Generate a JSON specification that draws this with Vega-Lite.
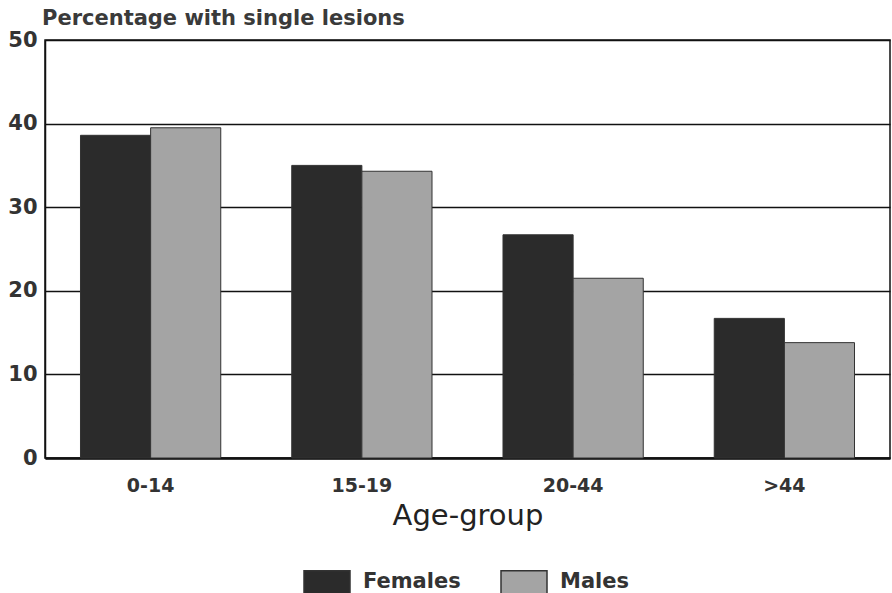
{
  "$schema": "https://vega.github.io/schema/vega-lite/v6.json",
  "autosize": "none",
  "width": 845,
  "height": 418,
  "padding": {"left": 45, "top": 40, "right": 2, "bottom": 135},
  "background": "white",
  "title": {
    "text": "Percentage with single lesions",
    "anchor": "start",
    "frame": "group",
    "dx": -3,
    "offset": 0,
    "font": "DejaVu Sans",
    "fontSize": 21,
    "fontWeight": "bold",
    "color": "#3a3a3a"
  },
  "config": {
    "view": {"stroke": "#111", "strokeWidth": 1.5},
    "font": "DejaVu Sans"
  },
  "data": {
    "values": [
      {"group": "0-14", "sex": "Females", "value": 38.6},
      {"group": "0-14", "sex": "Males", "value": 39.5},
      {"group": "15-19", "sex": "Females", "value": 35.0},
      {"group": "15-19", "sex": "Males", "value": 34.3},
      {"group": "20-44", "sex": "Females", "value": 26.7},
      {"group": "20-44", "sex": "Males", "value": 21.5},
      {"group": ">44", "sex": "Females", "value": 16.7},
      {"group": ">44", "sex": "Males", "value": 13.8}
    ]
  },
  "mark": {"type": "bar", "stroke": "#333", "strokeWidth": 1},
  "encoding": {
    "x": {
      "field": "group",
      "type": "nominal",
      "sort": ["0-14", "15-19", "20-44", ">44"],
      "scale": {"paddingInner": 0.336, "paddingOuter": 0.168},
      "axis": {
        "title": "Age-group",
        "titleFont": "DejaVu Sans",
        "titleFontSize": 29,
        "titleFontWeight": "normal",
        "titleColor": "#222",
        "titlePadding": 6,
        "labelAngle": 0,
        "labelFont": "DejaVu Sans",
        "labelFontSize": 19,
        "labelFontWeight": "bold",
        "labelColor": "#333",
        "labelPadding": 18,
        "ticks": false,
        "domainColor": "#111",
        "domainWidth": 2.5
      }
    },
    "xOffset": {"field": "sex", "type": "nominal", "scale": {"paddingInner": 0, "paddingOuter": 0}},
    "y": {
      "field": "value",
      "type": "quantitative",
      "scale": {"domain": [0, 50]},
      "axis": {
        "title": null,
        "values": [0, 10, 20, 30, 40, 50],
        "grid": true,
        "gridColor": "#111",
        "gridWidth": 1.5,
        "gridOpacity": 1,
        "ticks": false,
        "domainColor": "#111",
        "domainWidth": 1.5,
        "labelFont": "DejaVu Sans",
        "labelFontSize": 21,
        "labelFontWeight": "bold",
        "labelColor": "#333",
        "labelPadding": 8
      }
    },
    "color": {
      "field": "sex",
      "type": "nominal",
      "scale": {"domain": ["Females", "Males"], "range": ["#2b2b2b", "#a4a4a4"]},
      "legend": {
        "title": null,
        "orient": "none",
        "direction": "horizontal",
        "legendX": 258,
        "legendY": 518,
        "symbolType": "M-1,-0.5H1V0.5H-1Z",
        "symbolSize": 2116,
        "symbolStrokeColor": "#333",
        "symbolStrokeWidth": 1.5,
        "symbolOpacity": 1,
        "labelFont": "DejaVu Sans",
        "labelFontSize": 21,
        "labelFontWeight": "bold",
        "labelColor": "#333",
        "labelOffset": 12,
        "columnPadding": 37
      }
    }
  }
}
